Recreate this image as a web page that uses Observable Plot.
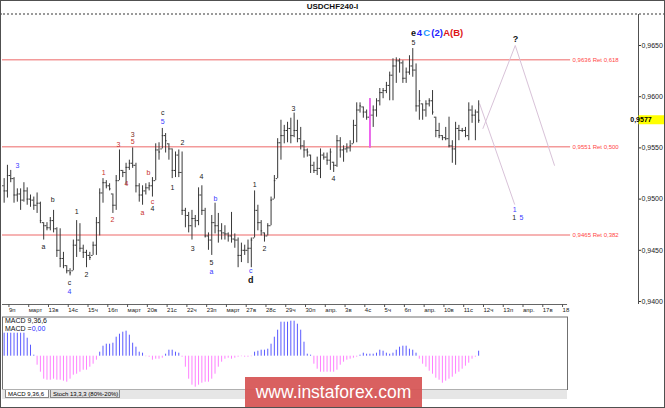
<!DOCTYPE html>
<html><head><meta charset="utf-8">
<script src="https://cdn.jsdelivr.net/npm/d3@7"></script>
<script src="https://cdn.jsdelivr.net/npm/@observablehq/plot@0.6"></script>
<style>
html,body{margin:0;padding:0;background:#fff;}
#root{position:relative;width:665px;height:408px;overflow:hidden;background:#fff;font-family:"Liberation Sans",Arial,sans-serif;}
#root svg{position:absolute;left:0;}
.abs{position:absolute;white-space:nowrap;}
#title{top:2px;left:0;width:665px;text-align:center;font-weight:bold;font-size:8px;line-height:10px;color:#111;}
#dots{top:13px;left:0;width:665px;height:0;border-top:2px dotted #9a9a9a;}
#macdlab{left:5px;top:317px;font-size:7px;line-height:7.5px;color:#111;}
#tabs{left:2px;top:389px;width:565px;height:9px;background:#e6e6e6;border-top:1px solid #b0b0b0;}
.tab{position:absolute;top:0;height:8px;font-size:6px;line-height:8px;padding:0 2px;border:1px solid #888;border-top:none;box-sizing:border-box;}
#wm{left:245px;top:377px;width:177px;height:31px;background:rgba(214,84,84,0.93);color:#fff;font-size:17.5px;line-height:30px;text-align:center;}
#frame{position:absolute;left:0;top:0;width:665px;height:408px;box-sizing:border-box;border:1px solid #505050;pointer-events:none;}
</style></head>
<body><div id="root"></div>
<script>
// ---- data: USDCHF H4 bars (index 0 = first bar shown) ----
const open = [0.9513,0.9508,0.9523,0.9520,0.9504,0.9505,0.9499,0.9508,0.9500,0.9499,
0.9494,0.9496,0.9477,0.9474,0.9472,0.9479,0.9471,0.9450,0.9442,0.9435,
0.9430,0.9430,0.9455,0.9460,0.9452,0.9448,0.9445,0.9445,0.9455,0.9477,
0.9506,0.9516,0.9513,0.9505,0.9494,0.9518,0.9528,0.9526,0.9531,0.9535,
0.9533,0.9513,0.9504,0.9508,0.9511,0.9513,0.9518,0.9548,0.9549,0.9562,
0.9554,0.9549,0.9528,0.9543,0.9526,0.9489,0.9484,0.9474,0.9481,0.9479,
0.9504,0.9489,0.9464,0.9460,0.9477,0.9474,0.9469,0.9467,0.9466,0.9464,
0.9461,0.9460,0.9445,0.9450,0.9450,0.9452,0.9462,0.9489,0.9477,0.9467,
0.9464,0.9474,0.9500,0.9520,0.9555,0.9562,0.9567,0.9569,0.9562,0.9567,
0.9559,0.9552,0.9548,0.9543,0.9533,0.9528,0.9530,0.9543,0.9541,0.9538,
0.9536,0.9533,0.9557,0.9548,0.9549,0.9550,0.9554,0.9572,0.9587,0.9590,
0.9585,0.9580,0.9582,0.9587,0.9596,0.9604,0.9606,0.9611,0.9621,0.9630,
0.9635,0.9633,0.9618,0.9624,0.9630,0.9626,0.9591,0.9593,0.9587,0.9593,
0.9596,0.9580,0.9567,0.9562,0.9560,0.9559,0.9552,0.9549,0.9569,0.9567,
0.9567,0.9562,0.9587,0.9582,0.9585];
const high = [0.9520,0.9533,0.9528,0.9521,0.9510,0.9510,0.9516,0.9511,0.9504,0.9502,
0.9506,0.9497,0.9477,0.9477,0.9482,0.9489,0.9472,0.9471,0.9448,0.9435,
0.9432,0.9460,0.9479,0.9476,0.9455,0.9450,0.9448,0.9458,0.9482,0.9510,
0.9520,0.9518,0.9515,0.9505,0.9523,0.9548,0.9528,0.9535,0.9538,0.9550,
0.9535,0.9515,0.9513,0.9515,0.9516,0.9521,0.9554,0.9555,0.9569,0.9564,
0.9554,0.9549,0.9546,0.9548,0.9546,0.9491,0.9487,0.9489,0.9484,0.9511,
0.9513,0.9491,0.9467,0.9484,0.9496,0.9486,0.9476,0.9474,0.9467,0.9487,
0.9466,0.9462,0.9457,0.9455,0.9460,0.9462,0.9508,0.9494,0.9479,0.9467,
0.9476,0.9502,0.9523,0.9559,0.9577,0.9572,0.9575,0.9579,0.9584,0.9577,
0.9570,0.9557,0.9549,0.9543,0.9536,0.9541,0.9549,0.9545,0.9545,0.9549,
0.9536,0.9562,0.9560,0.9552,0.9554,0.9557,0.9577,0.9594,0.9594,0.9590,
0.9587,0.9598,0.9591,0.9598,0.9608,0.9608,0.9614,0.9624,0.9637,0.9638,
0.9637,0.9635,0.9628,0.9640,0.9647,0.9632,0.9606,0.9593,0.9596,0.9598,
0.9606,0.9580,0.9574,0.9562,0.9570,0.9580,0.9557,0.9575,0.9572,0.9569,
0.9570,0.9594,0.9591,0.9587,0.9596];
const low = [0.9496,0.9501,0.9516,0.9496,0.9497,0.9489,0.9497,0.9494,0.9492,0.9489,
0.9486,0.9476,0.9460,0.9469,0.9469,0.9467,0.9443,0.9433,0.9432,0.9427,
0.9425,0.9430,0.9443,0.9448,0.9442,0.9433,0.9440,0.9445,0.9445,0.9464,
0.9496,0.9510,0.9508,0.9486,0.9489,0.9518,0.9521,0.9513,0.9528,0.9530,
0.9506,0.9497,0.9494,0.9504,0.9508,0.9502,0.9518,0.9538,0.9549,0.9545,
0.9538,0.9520,0.9521,0.9521,0.9484,0.9472,0.9467,0.9460,0.9472,0.9474,
0.9484,0.9462,0.9450,0.9445,0.9466,0.9457,0.9460,0.9460,0.9458,0.9457,
0.9452,0.9433,0.9438,0.9445,0.9437,0.9433,0.9462,0.9469,0.9464,0.9458,
0.9464,0.9474,0.9500,0.9520,0.9538,0.9554,0.9555,0.9554,0.9560,0.9555,
0.9548,0.9540,0.9541,0.9525,0.9525,0.9523,0.9520,0.9538,0.9533,0.9528,
0.9526,0.9531,0.9540,0.9536,0.9545,0.9546,0.9554,0.9555,0.9584,0.9579,
0.9577,0.9550,0.9570,0.9580,0.9591,0.9598,0.9603,0.9596,0.9596,0.9613,
0.9623,0.9613,0.9613,0.9621,0.9619,0.9585,0.9577,0.9577,0.9580,0.9590,
0.9582,0.9560,0.9559,0.9557,0.9557,0.9550,0.9535,0.9533,0.9557,0.9565,
0.9560,0.9557,0.9574,0.9557,0.9574];
const close = [0.9508,0.9523,0.9520,0.9504,0.9505,0.9499,0.9508,0.9500,0.9499,0.9494,
0.9496,0.9479,0.9474,0.9472,0.9479,0.9471,0.9450,0.9442,0.9435,0.9430,
0.9428,0.9455,0.9460,0.9452,0.9448,0.9445,0.9443,0.9455,0.9477,0.9506,
0.9516,0.9513,0.9510,0.9494,0.9518,0.9528,0.9526,0.9531,0.9535,0.9533,
0.9513,0.9504,0.9508,0.9511,0.9513,0.9518,0.9548,0.9546,0.9562,0.9557,
0.9549,0.9528,0.9543,0.9526,0.9489,0.9484,0.9474,0.9481,0.9479,0.9504,
0.9489,0.9464,0.9460,0.9477,0.9474,0.9469,0.9467,0.9466,0.9464,0.9461,
0.9460,0.9445,0.9450,0.9450,0.9452,0.9460,0.9489,0.9477,0.9469,0.9464,
0.9474,0.9499,0.9518,0.9555,0.9562,0.9567,0.9569,0.9562,0.9567,0.9559,
0.9552,0.9548,0.9546,0.9533,0.9528,0.9530,0.9543,0.9541,0.9538,0.9546,
0.9533,0.9557,0.9548,0.9549,0.9550,0.9552,0.9572,0.9587,0.9591,0.9585,
0.9580,0.9582,0.9587,0.9596,0.9604,0.9606,0.9611,0.9621,0.9630,0.9635,
0.9633,0.9618,0.9624,0.9630,0.9626,0.9591,0.9596,0.9587,0.9593,0.9596,
0.9585,0.9567,0.9562,0.9560,0.9559,0.9552,0.9549,0.9569,0.9567,0.9567,
0.9562,0.9587,0.9582,0.9585,0.9577];
// MACD histogram (units of 0.0001)
const macd = [2.3,2.3,2.3,2.3,2.3,2.3,2.3,1.8,1.1,0.1,
-0.9,-1.6,-2.3,-2.4,-2.4,-2.3,-2.4,-2.4,-2.5,-2.6,
-2.3,-1.9,-1.8,-1.6,-1.4,-1.4,-1.1,-0.8,-0.4,0.4,
1.0,1.2,1.2,1.3,1.9,2.2,2.4,2.5,2.1,1.3,
0.9,0.4,0.3,-0.05,-0.1,-0.4,-0.3,-0.3,-0.2,0.2,
0.6,0.6,0.4,0.3,-0.1,-1.1,-2.3,-2.9,-3.1,-2.9,
-2.7,-2.6,-2.6,-2.3,-1.8,-1.1,-0.6,-0.3,-0.2,-0.3,
-0.2,-0.1,-0.05,-0.1,-0.1,-0.05,0.4,0.5,0.6,0.6,
0.7,1.2,1.9,2.6,3.4,3.4,3.4,3.5,3.5,3.2,
2.6,1.4,0.2,0.1,-0.8,-1.3,-1.6,-1.6,-1.6,-1.6,
-1.6,-1.4,-0.9,-0.6,-0.4,-0.3,-0.2,-0.1,0.1,0.3,
0.2,0.2,0.2,0.3,0.6,0.5,0.3,0.2,0.3,0.6,
0.9,1.0,1.0,0.7,0.6,0.3,-0.3,-0.8,-1.1,-1.5,
-1.8,-2.2,-2.4,-2.7,-2.5,-2.3,-2.1,-1.8,-1.6,-1.3,
-1.0,-0.7,-0.3,-0.1,0.5];
// time axis
const dayTicks = [1,7,13,19,25,31,37,43,49,55,61,67,73,79,85,91,97,103,109,115,121,127,133,139,145,151,157,163,169];
const dayLabels = ["9п","март","13в","14с","15ч","16п","март","20в","21с","22ч","23п","март","27в","28с","29ч","30п","апр.","3в","4с","5ч","6п","апр.","10в","11с","12ч","13п","апр.","17в","18"];
// price axis
const priceTicks = [0.9400,0.9450,0.9500,0.9550,0.9600,0.9650];
// Fibonacci retracements
const fibLevels = [0.9636,0.9551,0.9465];
const fibRatios = ["0,618","0,500","0,382"];
// highlighted bar
const highlightBar = [{i:111, low:0.9550, high:0.9598}];
// forecast paths
const projUp = [{i:145.3,p:0.9569},{i:155.1,p:0.9650},{i:167.0,p:0.9533}];
const projDown = [{i:144.3,p:0.9593},{i:154.9,p:0.9495}];
// wave labels
const waveBlack = [
 {t:"a",i:11.9,p:0.9453},{t:"b",i:14.7,p:0.9499},{t:"c",i:19.8,p:0.9418},{t:"1",i:22.0,p:0.9488},{t:"2",i:25.0,p:0.9426},
 {t:"4",i:45.0,p:0.9491},{t:"c",i:48.1,p:0.9584},{t:"1",i:51.1,p:0.9511},{t:"2",i:54.1,p:0.9555},{t:"3",i:57.2,p:0.9452},
 {t:"4",i:59.9,p:0.9522},{t:"5",i:62.9,p:0.9438},{t:"1",i:76.0,p:0.9514},{t:"2",i:79.0,p:0.9452},{t:"3",i:87.8,p:0.9588},
 {t:"4",i:99.9,p:0.9520},{t:"5",i:124.2,p:0.9653},{t:"1",i:154.8,p:0.9482}];
const waveBlue = [
 {t:"3",i:4.0,p:0.9533},{t:"4",i:19.8,p:0.9410},{t:"5",i:48.1,p:0.9576},{t:"a",i:62.9,p:0.9429},{t:"b",i:64.1,p:0.9500},
 {t:"c",i:74.8,p:0.9430},{t:"1",i:154.9,p:0.9490},{t:"5",i:157.0,p:0.9482}];
const waveRed = [
 {t:"1",i:30.2,p:0.9526},{t:"2",i:32.9,p:0.9480},{t:"3",i:34.7,p:0.9553},{t:"4",i:37.1,p:0.9515},
 {t:"5",i:39.0,p:0.9556},{t:"a",i:42.0,p:0.9487},{t:"b",i:43.8,p:0.9526},{t:"c",i:45.0,p:0.9497}];
const waveBrown = [{t:"3",i:39.0,p:0.9563}];
const waveBold = [{t:"d",i:74.8,p:0.9421},{t:"?",i:155.2,p:0.9656},{t:"e",i:124.2,p:0.9662}];
const topBlue = [{t:"4",i:126.0,p:0.9662},{t:"(2)",i:131.4,p:0.9662}];
const topCyan = [{t:"C",i:128.2,p:0.9662}];
const topRed = [{t:"A",i:134.3,p:0.9662},{t:"(B)",i:137.3,p:0.9662}];

// ---- build ----
const fmt = d => d.toFixed(4).replace(".", ",");
const bars = close.map((c,i) => ({i, open:open[i], high:high[i], low:low[i], close:c}));
const fib = fibLevels.map((l,k) => ({level:l, label:`${fmt(l)} Ret ${fibRatios[k]}`}));
const macdData = macd.map((v,i) => ({i, v}));
const dayMap = new Map(dayTicks.map((t,k) => [t, dayLabels[k]]));
const xDomain = [-0.5, 192.5];
const priceDomain = [0.939707, 0.968027];
const timeAxisEnd = 170.97;
const fibEnd = 171.9;
const font = "Liberation Sans, Arial, sans-serif";
const barColor = "#383838";

const main = Plot.plot({
  width: 665, height: 408,
  marginTop: 14, marginBottom: 104, marginLeft: 2, marginRight: 27,
  x: {domain: xDomain, axis: null},
  y: {domain: priceDomain, axis: null},
  style: {fontFamily: font, background: "#fff", overflow: "visible"},
  marks: [
    Plot.ruleY(fib, {y: "level", x1: xDomain[0], x2: fibEnd, stroke: "#f39a9a", strokeWidth: 1.5}),
    Plot.text(fib, {x: fibEnd, y: "level", text: "label", textAnchor: "start", dx: 2, fill: "#ff4545", fontSize: 6}),
    Plot.line(projUp, {x: "i", y: "p", stroke: "#d8c2d8", strokeWidth: 1}),
    Plot.line(projDown, {x: "i", y: "p", stroke: "#d8c2d8", strokeWidth: 1}),
    Plot.ruleX(bars, {x: "i", y1: "low", y2: "high", stroke: barColor, strokeWidth: 1}),
    Plot.ruleY(bars, {x1: d => d.i - 0.45, x2: "i", y: "open", stroke: barColor, strokeWidth: 1}),
    Plot.ruleY(bars, {x1: "i", x2: d => d.i + 0.45, y: "close", stroke: barColor, strokeWidth: 1}),
    Plot.ruleX(highlightBar, {x: "i", y1: "low", y2: "high", stroke: "#ff5cff", strokeWidth: 1.6}),
    Plot.text(waveBlack, {x: "i", y: "p", text: "t", fill: "#1a1a1a", fontSize: 7}),
    Plot.text(waveBlue, {x: "i", y: "p", text: "t", fill: "#3b3bff", fontSize: 7}),
    Plot.text(waveRed, {x: "i", y: "p", text: "t", fill: "#c8302c", fontSize: 7}),
    Plot.text(waveBrown, {x: "i", y: "p", text: "t", fill: "#7a2a1a", fontSize: 7}),
    Plot.text(waveBold, {x: "i", y: "p", text: "t", fill: "#111", fontSize: 9, fontWeight: "bold"}),
    Plot.text(topBlue, {x: "i", y: "p", text: "t", fill: "#2222ff", fontSize: 9.5, fontWeight: "bold"}),
    Plot.text(topCyan, {x: "i", y: "p", text: "t", fill: "#1e9bff", fontSize: 9.5, fontWeight: "bold"}),
    Plot.text(topRed, {x: "i", y: "p", text: "t", fill: "#dd1616", fontSize: 9.5, fontWeight: "bold"}),
    Plot.ruleY([priceDomain[0]], {x1: xDomain[0], x2: timeAxisEnd, stroke: "#666"}),
    Plot.axisX({ticks: dayTicks, tickFormat: d => dayMap.get(d), tickSize: 3, tickPadding: 0,
      textAnchor: "start", dx: 1.5, fontSize: 6, label: null, stroke: "#555", fill: "#222"}),
    Plot.axisY({anchor: "right", ticks: priceTicks, tickFormat: fmt, tickSize: 2, tickPadding: 1,
      fontSize: 7, label: null, stroke: "#333", fill: "#222"}),
    Plot.ruleX([xDomain[1]], {stroke: "#505050"})
  ]
});
main.style.top = "0px";

// current price tag via the plot's own y scale
const yScale = main.scale("y");
const yLast = yScale.apply(close[close.length - 1]);
const sel = d3.select(main);
sel.append("rect").attr("x", 638.5).attr("y", yLast - 4.5).attr("width", 26).attr("height", 9).attr("fill", "#ffff00");
sel.append("text").attr("x", 641).attr("y", yLast + 2.5).attr("font-size", 7).attr("font-weight", "bold")
  .attr("font-family", font).attr("fill", "#000").text(fmt(close[close.length - 1]));

const macdPlot = Plot.plot({
  width: 570, height: 74,
  marginTop: 0.5, marginBottom: 1, marginLeft: 2, marginRight: 3,
  x: {domain: [xDomain[0], timeAxisEnd], axis: null},
  y: {domain: [-3.33, 3.92], axis: null},
  style: {background: "transparent", overflow: "visible"},
  marks: [
    Plot.ruleX(macdData, {x: "i", y1: 0, y2: "v", stroke: d => d.v >= 0 ? "#5a5aff" : "#ff80ff", strokeWidth: 1}),
    Plot.frame({stroke: "#707070"})
  ]
});
macdPlot.style.top = "316px";

const root = document.getElementById("root");
root.appendChild(main);
root.appendChild(macdPlot);
root.insertAdjacentHTML("beforeend", `
  <div class="abs" id="dots"></div>
  <div class="abs" id="title">USDCHF240-I</div>
  <div class="abs" id="macdlab">MACD 9,36,6<br>MACD =<span style="color:#2a2aff">0,00</span></div>
  <div class="abs" id="tabs">
    <div class="tab" style="left:3px;width:44px;background:#fff;">MACD 9,36,6</div>
    <div class="tab" style="left:48px;width:70px;background:#e2e2e2;">Stoch 13,3,3 (80%-20%)</div>
  </div>
  <div class="abs" id="wm">www.instaforex.com</div>
  <div id="frame"></div>`);
</script>
</body></html>
